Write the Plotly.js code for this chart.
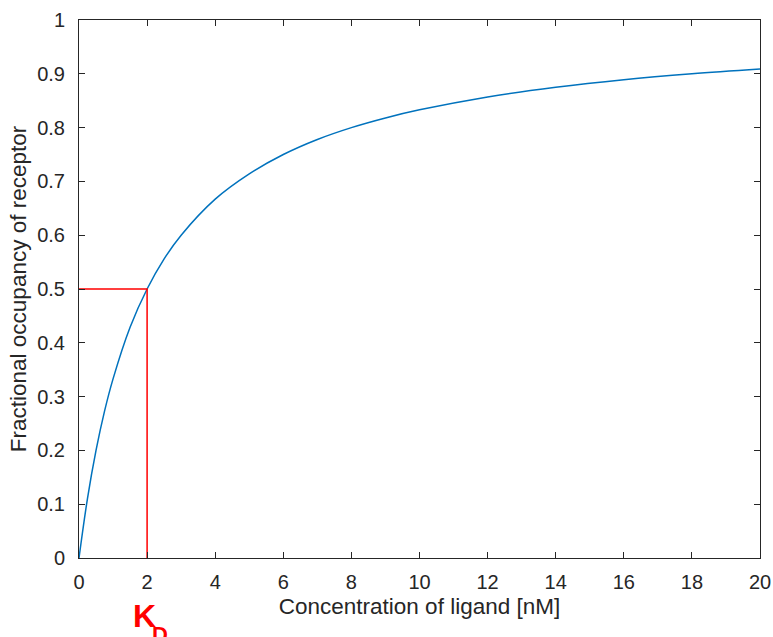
<!DOCTYPE html>
<html>
<head>
<meta charset="utf-8">
<script src="https://cdn.plot.ly/plotly-3.0.1.min.js"></script>
<style>html,body{margin:0;padding:0;background:#fff;} #chart{width:773px;height:637px;}</style>
</head>
<body>
<div id="chart"></div>
<script>
// Concentration of ligand [nM] and fractional occupancy
const ligandConc = [0, 0.25, 0.5, 0.75, 1, 1.5, 2, 2.5, 3, 4, 5, 6, 7, 8, 9, 10, 12, 14, 16, 18, 20];
const occupancy  = [0, 0.111, 0.2, 0.273, 0.333, 0.429, 0.5, 0.556, 0.6, 0.667, 0.714, 0.75, 0.778, 0.8, 0.818, 0.833, 0.857, 0.875, 0.889, 0.9, 0.909];
// KD guide lines
const kdX = [0, 2, 2];
const kdY = [0.5, 0.5, 0];
const kdValue = 2;
const xTicks = [0, 2, 4, 6, 8, 10, 12, 14, 16, 18, 20];
const yTicks = [0, 0.1, 0.2, 0.3, 0.4, 0.5, 0.6, 0.7, 0.8, 0.9, 1];
const yTickText = ['0', '0.1', '0.2', '0.3', '0.4', '0.5', '0.6', '0.7', '0.8', '0.9', '1'];

const axisColor = '#262626';
const fontFam = 'Liberation Sans, Arial, Helvetica, sans-serif';

const data = [
  {x: ligandConc, y: occupancy, mode: 'lines', line: {color: '#0072BD', width: 1.5, shape: 'spline'}, hoverinfo: 'x+y'},
  {x: kdX, y: kdY, mode: 'lines', line: {color: '#FF0000', width: 1.5}, hoverinfo: 'x+y'}
];

const layout = {
  width: 773, height: 637,
  margin: {l: 79, r: 13, t: 20, b: 79, pad: 0},
  paper_bgcolor: '#fff', plot_bgcolor: '#fff',
  showlegend: false,
  font: {family: fontFam, color: axisColor, size: 20},
  xaxis: {
    range: [0, 20], tickvals: xTicks, ticktext: xTicks.map(String),
    showgrid: false, zeroline: false,
    showline: true, linecolor: axisColor, linewidth: 1, mirror: 'ticks',
    ticks: 'inside', ticklen: 6, tickwidth: 1, tickcolor: axisColor,
    tickfont: {size: 20, color: axisColor, family: fontFam},
    ticklabelstandoff: 6,
    title: {text: 'Concentration of ligand [nM]', font: {size: 22.5, color: axisColor, family: fontFam}, standoff: 6}
  },
  yaxis: {
    range: [0, 1], tickvals: yTicks, ticktext: yTickText,
    showgrid: false, zeroline: false,
    showline: true, linecolor: axisColor, linewidth: 1, mirror: 'ticks',
    ticks: 'inside', ticklen: 6, tickwidth: 1, tickcolor: axisColor,
    tickfont: {size: 20, color: axisColor, family: fontFam},
    ticklabelstandoff: 9,
    title: {text: 'Fractional occupancy of receptor', font: {size: 22.5, color: axisColor, family: fontFam}, standoff: 4}
  },
  annotations: [
    {
      xref: 'x', yref: 'paper', x: kdValue, y: 0, xanchor: 'center', yanchor: 'top', yshift: -38, xshift: -3,
      text: '<b>K</b>', showarrow: false,
      font: {family: fontFam, size: 32, color: '#FF0000'}
    },
    {
      xref: 'x', yref: 'paper', x: kdValue, y: 0, xanchor: 'center', yanchor: 'top', yshift: -62, xshift: 13,
      text: '<b>D</b>', showarrow: false,
      font: {family: fontFam, size: 22, color: '#FF0000'}
    }
  ]
};

Plotly.newPlot('chart', data, layout, {displayModeBar: false, staticPlot: true});
</script>
</body>
</html>
